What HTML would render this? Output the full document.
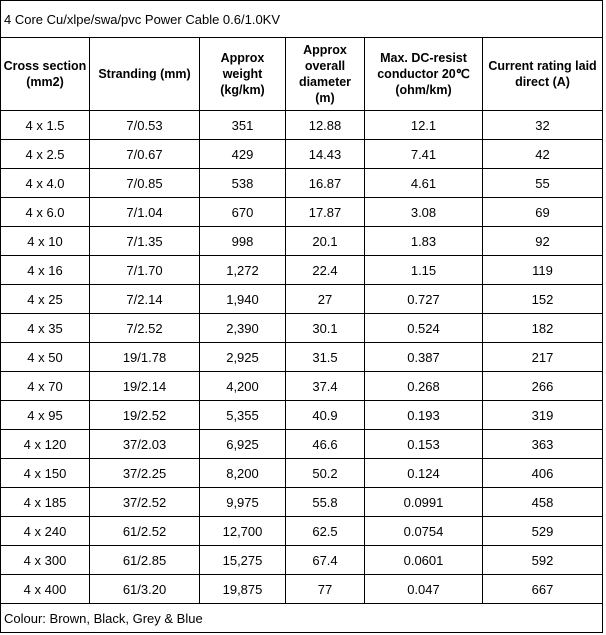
<!DOCTYPE html>
<html><head><style>
html,body{margin:0;padding:0;background:#fff;width:606px;height:635px;overflow:hidden}
table{position:absolute;left:0;top:0;border-collapse:collapse;table-layout:fixed;font-family:"Liberation Sans",Arial,sans-serif;font-size:13px;color:#000}
td{border:1px solid #000;text-align:center;padding:0;vertical-align:middle;overflow:hidden}
tr.h td{font-weight:bold;height:72px;line-height:16px;font-size:12.5px}
tr.d td{height:28px}
td.l{text-align:left;padding-left:3px}
</style></head><body>
<table>
<colgroup><col style="width:89px"><col style="width:110px"><col style="width:86px"><col style="width:79px"><col style="width:118px"><col style="width:120px"></colgroup>
<tr><td colspan="6" class="l" style="height:36px">4 Core Cu/xlpe/swa/pvc Power Cable 0.6/1.0KV</td></tr>
<tr class="h"><td>Cross section<br>(mm2)</td><td>Stranding (mm)</td><td>Approx<br>weight<br>(kg/km)</td><td>Approx<br>overall<br>diameter<br>(m)</td><td>Max. DC-resist<br>conductor 20℃<br>(ohm/km)</td><td>Current rating laid<br>direct (A)</td></tr>
<tr class="d"><td>4 x 1.5</td><td>7/0.53</td><td>351</td><td>12.88</td><td>12.1</td><td>32</td></tr>
<tr class="d"><td>4 x 2.5</td><td>7/0.67</td><td>429</td><td>14.43</td><td>7.41</td><td>42</td></tr>
<tr class="d"><td>4 x 4.0</td><td>7/0.85</td><td>538</td><td>16.87</td><td>4.61</td><td>55</td></tr>
<tr class="d"><td>4 x 6.0</td><td>7/1.04</td><td>670</td><td>17.87</td><td>3.08</td><td>69</td></tr>
<tr class="d"><td>4 x 10</td><td>7/1.35</td><td>998</td><td>20.1</td><td>1.83</td><td>92</td></tr>
<tr class="d"><td>4 x 16</td><td>7/1.70</td><td>1,272</td><td>22.4</td><td>1.15</td><td>119</td></tr>
<tr class="d"><td>4 x 25</td><td>7/2.14</td><td>1,940</td><td>27</td><td>0.727</td><td>152</td></tr>
<tr class="d"><td>4 x 35</td><td>7/2.52</td><td>2,390</td><td>30.1</td><td>0.524</td><td>182</td></tr>
<tr class="d"><td>4 x 50</td><td>19/1.78</td><td>2,925</td><td>31.5</td><td>0.387</td><td>217</td></tr>
<tr class="d"><td>4 x 70</td><td>19/2.14</td><td>4,200</td><td>37.4</td><td>0.268</td><td>266</td></tr>
<tr class="d"><td>4 x 95</td><td>19/2.52</td><td>5,355</td><td>40.9</td><td>0.193</td><td>319</td></tr>
<tr class="d"><td>4 x 120</td><td>37/2.03</td><td>6,925</td><td>46.6</td><td>0.153</td><td>363</td></tr>
<tr class="d"><td>4 x 150</td><td>37/2.25</td><td>8,200</td><td>50.2</td><td>0.124</td><td>406</td></tr>
<tr class="d"><td>4 x 185</td><td>37/2.52</td><td>9,975</td><td>55.8</td><td>0.0991</td><td>458</td></tr>
<tr class="d"><td>4 x 240</td><td>61/2.52</td><td>12,700</td><td>62.5</td><td>0.0754</td><td>529</td></tr>
<tr class="d"><td>4 x 300</td><td>61/2.85</td><td>15,275</td><td>67.4</td><td>0.0601</td><td>592</td></tr>
<tr class="d"><td>4 x 400</td><td>61/3.20</td><td>19,875</td><td>77</td><td>0.047</td><td>667</td></tr>
<tr><td colspan="6" class="l" style="height:28px">Colour: Brown, Black, Grey &amp; Blue</td></tr>
</table>
</body></html>
